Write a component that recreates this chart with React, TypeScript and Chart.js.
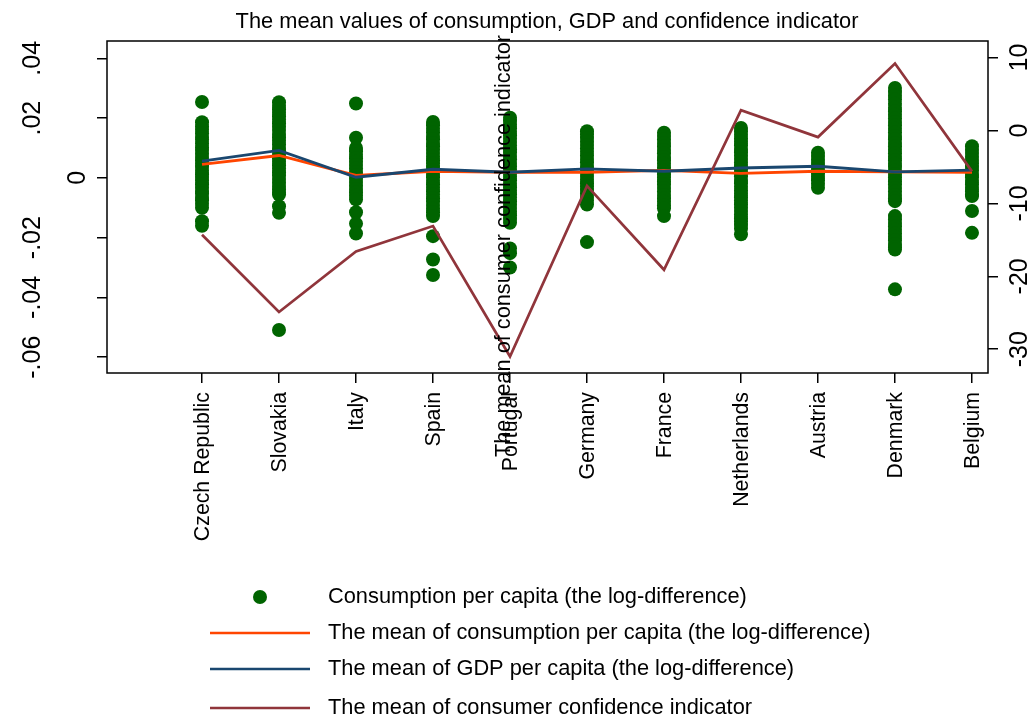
import React, { useEffect, useRef } from 'react';
import Chart from 'chart.js/auto';

const countries = ['Czech Republic', 'Slovakia', 'Italy', 'Spain', 'Portugal', 'Germany', 'France', 'Netherlands', 'Austria', 'Denmark', 'Belgium'];

const czechRepublic = [0.0254, 0.0186, 0.0172, 0.0161, 0.0149, 0.0137, 0.0128, 0.0115, 0.0102, 0.0093, 0.0081, 0.0070, 0.0058, 0.0047, 0.0036, 0.0024, 0.0012, 0.0003, -0.0009, -0.0021, -0.0033, -0.0044, -0.0052, -0.0064, -0.0075, -0.0087, -0.0100, -0.0145, -0.0160];
const slovakia = [0.0253, 0.0241, 0.0230, 0.0218, 0.0206, 0.0195, 0.0183, 0.0171, 0.0160, 0.0147, 0.0135, 0.0124, 0.0112, 0.0100, 0.0089, 0.0077, 0.0066, 0.0054, 0.0042, 0.0031, 0.0019, 0.0008, -0.0004, -0.0016, -0.0027, -0.0039, -0.0050, -0.0056, -0.0095, -0.0117, -0.0509];
const italy = [0.0249, 0.0134, 0.0100, 0.0089, 0.0077, 0.0066, 0.0054, 0.0043, 0.0031, 0.0020, 0.0009, -0.0003, -0.0014, -0.0026, -0.0037, -0.0049, -0.0060, -0.0072, -0.0115, -0.0153, -0.0186];
const spain = [0.0187, 0.0176, 0.0164, 0.0152, 0.0140, 0.0129, 0.0117, 0.0106, 0.0094, 0.0083, 0.0071, 0.0059, 0.0048, 0.0036, 0.0025, 0.0013, 0.0002, -0.0010, -0.0021, -0.0033, -0.0045, -0.0056, -0.0068, -0.0079, -0.0091, -0.0103, -0.0115, -0.0128, -0.0195, -0.0273, -0.0325];
const portugal = [0.0201, 0.0190, 0.0178, 0.0166, 0.0154, 0.0143, 0.0131, 0.0120, 0.0108, 0.0096, 0.0085, 0.0073, 0.0062, 0.0050, 0.0038, 0.0027, 0.0015, 0.0004, -0.0008, -0.0020, -0.0031, -0.0043, -0.0055, -0.0066, -0.0078, -0.0090, -0.0101, -0.0113, -0.0125, -0.0138, -0.0150, -0.0236, -0.0252, -0.0300];
const germany = [0.0156, 0.0145, 0.0133, 0.0121, 0.0110, 0.0098, 0.0087, 0.0075, 0.0063, 0.0052, 0.0040, 0.0029, 0.0017, 0.0006, -0.0006, -0.0018, -0.0029, -0.0041, -0.0052, -0.0064, -0.0076, -0.0089, -0.0215];
const france = [0.0151, 0.0140, 0.0128, 0.0117, 0.0105, 0.0093, 0.0082, 0.0070, 0.0059, 0.0047, 0.0035, 0.0024, 0.0012, 0.0001, -0.0011, -0.0022, -0.0034, -0.0046, -0.0057, -0.0069, -0.0080, -0.0092, -0.0102, -0.0128];
const netherlands = [0.0167, 0.0155, 0.0144, 0.0132, 0.0121, 0.0109, 0.0097, 0.0086, 0.0074, 0.0063, 0.0051, 0.0039, 0.0028, 0.0016, 0.0005, -0.0007, -0.0018, -0.0030, -0.0042, -0.0053, -0.0065, -0.0076, -0.0088, -0.0100, -0.0111, -0.0123, -0.0135, -0.0146, -0.0158, -0.0170, -0.0189];
const austria = [0.0084, 0.0073, 0.0061, 0.0050, 0.0038, 0.0027, 0.0015, 0.0004, -0.0008, -0.0020, -0.0033];
const denmark = [0.0301, 0.0287, 0.0275, 0.0262, 0.0248, 0.0235, 0.0223, 0.0211, 0.0199, 0.0187, 0.0175, 0.0164, 0.0152, 0.0140, 0.0129, 0.0117, 0.0105, 0.0094, 0.0082, 0.0071, 0.0059, 0.0047, 0.0036, 0.0024, 0.0013, 0.0001, -0.0011, -0.0022, -0.0034, -0.0046, -0.0057, -0.0069, -0.0078, -0.0128, -0.0139, -0.0151, -0.0163, -0.0174, -0.0186, -0.0197, -0.0209, -0.0221, -0.0232, -0.0240, -0.0373];
const belgium = [0.0106, 0.0094, 0.0083, 0.0071, 0.0060, 0.0048, 0.0036, 0.0025, 0.0013, 0.0002, -0.0010, -0.0021, -0.0033, -0.0045, -0.0056, -0.0061, -0.0111, -0.0184];

const consumptionByCountry = [czechRepublic, slovakia, italy, spain, portugal, germany, france, netherlands, austria, denmark, belgium];

const meanConsumption = [0.0045, 0.0075, 0.0008, 0.0022, 0.0019, 0.0019, 0.0025, 0.0015, 0.0022, 0.0020, 0.0019];
const meanGDP = [0.0056, 0.0092, 0.0002, 0.0029, 0.0019, 0.0030, 0.0022, 0.0033, 0.0039, 0.0020, 0.0026];
const meanConfidence = [-14.3, -24.9, -16.6, -13.1, -31.0, -7.6, -19.1, 2.8, -0.9, 9.2, -5.6];

const leftTicks = [-0.06, -0.04, -0.02, 0, 0.02, 0.04];
const leftTickLabels = ['-.06', '-.04', '-.02', '0', '.02', '.04'];
const rightTicks = [-30, -20, -10, 0, 10];
const rightTickLabels = ['-30', '-20', '-10', '0', '10'];

const titleText = 'The mean values of consumption, GDP and confidence indicator';
const rightAxisTitle = 'The mean of consumer confidence indicator';
const legendLabels = [
  'Consumption per capita (the log-difference)',
  'The mean of consumption per capita (the log-difference)',
  'The mean of GDP per capita (the log-difference)',
  'The mean of consumer confidence indicator',
];

const GREEN = '#006400';
const ORANGE = '#FF4500';
const NAVY = '#1A476F';
const MAROON = '#90353B';
const FONT = '"Liberation Sans", Arial, sans-serif';

const decorPlugin = {
  id: 'stataDecor',
  afterDraw(chart: any) {
    const ctx = chart.ctx;
    const ca = chart.chartArea;
    const xs = chart.scales.x;
    const yl = chart.scales.y;
    const yr = chart.scales.y2;
    ctx.save();
    // frame
    ctx.strokeStyle = '#000';
    ctx.lineWidth = 1.5;
    ctx.strokeRect(ca.left, ca.top, ca.right - ca.left, ca.bottom - ca.top);

    ctx.fillStyle = '#000';
    // title
    ctx.font = `21.8px ${FONT}`;
    ctx.textAlign = 'center';
    ctx.textBaseline = 'middle';
    ctx.fillText(titleText, 547, 22);

    // left tick labels (rotated)
    ctx.font = `25px ${FONT}`;
    leftTicks.forEach((v, i) => {
      const py = yl.getPixelForValue(v);
      const px = leftTickLabels[i] === '0' ? 78 : 33;
      ctx.save();
      ctx.translate(px, py);
      ctx.rotate(-Math.PI / 2);
      ctx.textAlign = 'center';
      ctx.textBaseline = 'middle';
      ctx.fillText(leftTickLabels[i], 0, 0);
      ctx.restore();
    });
    // right tick labels
    rightTicks.forEach((v, i) => {
      const py = yr.getPixelForValue(v);
      ctx.save();
      ctx.translate(1020, py);
      ctx.rotate(-Math.PI / 2);
      ctx.textAlign = 'center';
      ctx.textBaseline = 'middle';
      ctx.fillText(rightTickLabels[i], 0, 0);
      ctx.restore();
    });
    // x labels
    ctx.font = `21.3px ${FONT}`;
    countries.forEach((c, i) => {
      const px = xs.getPixelForValue(i + 1);
      ctx.save();
      ctx.translate(px + 1, 392);
      ctx.rotate(-Math.PI / 2);
      ctx.textAlign = 'right';
      ctx.textBaseline = 'middle';
      ctx.fillText(c, 0, 0);
      ctx.restore();
    });
    // misplaced right axis title
    ctx.font = `21.7px ${FONT}`;
    ctx.save();
    ctx.translate(504, 246);
    ctx.rotate(-Math.PI / 2);
    ctx.textAlign = 'center';
    ctx.textBaseline = 'middle';
    ctx.fillText(rightAxisTitle, 0, 0);
    ctx.restore();

    // legend
    const rows = [597, 633, 669, 708];
    ctx.font = `21.8px ${FONT}`;
    ctx.textAlign = 'left';
    ctx.textBaseline = 'middle';
    rows.forEach((ry, i) => {
      if (i === 0) {
        ctx.beginPath();
        ctx.fillStyle = GREEN;
        ctx.arc(260, ry, 7, 0, Math.PI * 2);
        ctx.fill();
      } else {
        ctx.beginPath();
        ctx.strokeStyle = [ORANGE, NAVY, MAROON][i - 1];
        ctx.lineWidth = 2.6;
        ctx.moveTo(210, ry);
        ctx.lineTo(310, ry);
        ctx.stroke();
      }
      ctx.fillStyle = '#000';
      ctx.fillText(legendLabels[i], 328, ry);
    });
    ctx.restore();
  },
};

export default function App() {
  const ref = useRef<HTMLCanvasElement | null>(null);
  useEffect(() => {
    if (!ref.current) return;
    const scatterData: { x: number; y: number }[] = [];
    consumptionByCountry.forEach((vals, i) => {
      vals.forEach((v) => scatterData.push({ x: i + 1, y: v }));
    });
    const toXY = (arr: number[]) => arr.map((v, i) => ({ x: i + 1, y: v }));
    const gridCfg = {
      display: true,
      drawOnChartArea: false,
      drawTicks: true,
      tickLength: 10,
      color: '#000',
      lineWidth: 1.5,
    };
    const chart = new Chart(ref.current, {
      type: 'scatter',
      data: {
        datasets: [
          {
            label: legendLabels[3],
            data: toXY(meanConfidence),
            yAxisID: 'y2',
            showLine: true,
            borderColor: MAROON,
            borderWidth: 2.7,
            pointRadius: 0,
            order: 0,
          },
          {
            label: legendLabels[2],
            data: toXY(meanGDP),
            yAxisID: 'y',
            showLine: true,
            borderColor: NAVY,
            borderWidth: 2.9,
            pointRadius: 0,
            order: 1,
          },
          {
            label: legendLabels[1],
            data: toXY(meanConsumption),
            yAxisID: 'y',
            showLine: true,
            borderColor: ORANGE,
            borderWidth: 2.9,
            pointRadius: 0,
            order: 2,
          },
          {
            label: legendLabels[0],
            data: scatterData,
            yAxisID: 'y',
            showLine: false,
            backgroundColor: GREEN,
            pointBackgroundColor: GREEN,
            pointBorderWidth: 0,
            pointRadius: 7,
            order: 3,
          },
        ],
      },
      options: {
        responsive: false,
        animation: false,
        devicePixelRatio: 1,
        layout: { padding: { top: 41, left: 0, right: 0, bottom: 0 } },
        plugins: {
          legend: { display: false },
          title: { display: false },
          tooltip: { enabled: false },
        },
        events: [],
        scales: {
          x: {
            type: 'linear',
            position: 'bottom',
            min: -0.234,
            max: 11.208,
            afterBuildTicks: (s: any) => {
              s.ticks = countries.map((_, i) => ({ value: i + 1 }));
            },
            afterFit: (s: any) => {
              s.height = 345;
            },
            ticks: { display: false },
            grid: gridCfg,
            border: { display: false },
          },
          y: {
            type: 'linear',
            position: 'left',
            min: -0.0653,
            max: 0.0458,
            afterBuildTicks: (s: any) => {
              s.ticks = leftTicks.map((v) => ({ value: v }));
            },
            afterFit: (s: any) => {
              s.width = 107;
            },
            ticks: { display: false },
            grid: gridCfg,
            border: { display: false },
          },
          y2: {
            type: 'linear',
            position: 'right',
            min: -33.26,
            max: 12.28,
            afterBuildTicks: (s: any) => {
              s.ticks = rightTicks.map((v) => ({ value: v }));
            },
            afterFit: (s: any) => {
              s.width = 46;
            },
            ticks: { display: false },
            grid: gridCfg,
            border: { display: false },
          },
        },
      } as any,
      plugins: [decorPlugin],
    });
    return () => chart.destroy();
  }, []);
  return (
    <div style={{ position: 'absolute', left: 0, top: 0, width: 1034, height: 718, background: '#fff' }}>
      <canvas ref={ref} width={1034} height={718} style={{ display: 'block', width: 1034, height: 718 }} />
    </div>
  );
}
